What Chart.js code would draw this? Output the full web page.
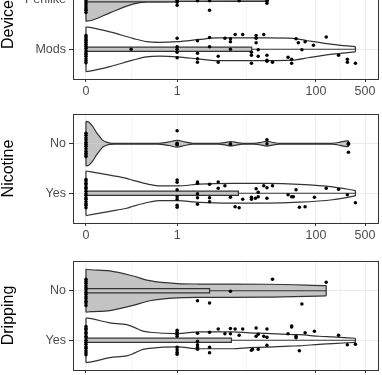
<!DOCTYPE html>
<html><head><meta charset="utf-8">
<script src="https://cdn.jsdelivr.net/npm/chart.js@4.4.0/dist/chart.umd.min.js"></script>
<style>
html,body{margin:0;padding:0;background:#fff;overflow:hidden;width:382px;height:375px;position:relative;}
canvas{position:absolute;left:0;}
</style></head><body>
<canvas id="c1" width="382" height="151" style="top:-42px"></canvas>
<canvas id="c2" width="382" height="151" style="top:102px"></canvas>
<canvas id="c3" width="382" height="151" style="top:249px"></canvas>
<script>
// ---- axis (pseudo-log: log10(value + offset)) ----
const xOffset = 0.053;
const xBreaks = [0, 1, 100, 500];
const xBreakLabels = ['0', '1', '100', '500'];

// ---- panels ----
const panelTitles = ['Device', 'Nicotine', 'Dripping'];
const deviceGroups = ['Penlike', 'Mods'];
const nicotineGroups = ['No', 'Yes'];
const drippingGroups = ['No', 'Yes'];

// ---- violin profiles: [value, relative half-width] ----
const penlikeViolin = [[0,0.96],[0.01,0.93],[0.063,0.59],[0.193,0.2],[0.333,0.1],[1,0.08],[21,0.07]];
const modsViolin = [[0,1.0],[0.01,0.97],[0.063,0.78],[0.193,0.49],[0.333,0.34],[0.543,0.31],[1,0.34],[2.15,0.44],[3.75,0.51],[8.1,0.51],[19.5,0.51],[46.6,0.49],[80,0.37],[172,0.22],[365,0.115]];
const nicNoViolin = [[0,1.0],[0.0055,0.96],[0.014,0.75],[0.022,0.5],[0.031,0.3],[0.039,0.15],[0.051,0.07],[0.063,0.03],[0.084,0.02],[0.5,0.02],[0.75,0.08],[1,0.15],[1.3,0.08],[1.7,0.02],[4,0.02],[5,0.05],[6,0.1],[7.5,0.05],[9,0.02],[13,0.02],[16,0.05],[20,0.11],[25,0.05],[30,0.02],[170,0.02],[220,0.07],[260,0.12],[290,0.13]];
const nicYesViolin = [[0,1.0],[0.01,0.96],[0.063,0.81],[0.148,0.67],[0.196,0.58],[0.377,0.39],[0.543,0.33],[1,0.33],[2.15,0.41],[6.5,0.44],[19.5,0.44],[58,0.40],[172,0.29],[365,0.12]];
const dripNoViolin = [[0,0.96],[0.01,0.94],[0.063,0.89],[0.196,0.66],[0.377,0.45],[1,0.32],[2.15,0.30],[19.5,0.29],[140,0.23]];
const dripYesViolin = [[0,1.0],[0.01,0.97],[0.063,0.78],[0.148,0.70],[0.196,0.6],[0.29,0.41],[0.377,0.36],[1,0.30],[2.15,0.38],[6.5,0.38],[11.3,0.33],[19.5,0.31],[41.8,0.26],[58,0.25],[111.5,0.18],[172,0.15],[365,0.09]];

// ---- box stats: [q1, median, q3, upper whisker] ----
const penlikeBox = [0, 0, 1, 21];
const modsBox = [0, 0, 12.1, 365];
const nicNoBox = [0, 0, 0, 0];
const nicYesBox = [0, 0, 7.8, 365];
const dripNoBox = [0, 0, 3, 140];
const dripYesBox = [0, 0, 6.2, 365];

// ---- jittered points: [value, vertical jitter] ----
const penlikePoints = [[0,-0.3],[0,-0.26],[0,-0.22],[0,-0.17],[0,-0.12],[0,-0.08],[0,-0.03],[0,0.02],[0,0.06],[0,0.1],[0,0.14],[0,0.18],[0,0.21],[0,0.26],
  [1,-0.2],[1,-0.1],[1,0.01],[1,0.05],[1,0.11],[2,0.02],[3,0.02],[3,0.21],[8,0.02],[20,0.02],[20,0.07]];
const modsPoints = [[0,-0.28],[0,-0.25],[0,-0.21],[0,-0.18],[0,-0.14],[0,-0.1],[0,-0.06],[0,-0.02],[0,0.03],[0,0.07],[0,0.1],[0,0.14],[0,0.19],[0,0.23],[0,0.27],
  [0.18,0],[1,-0.22],[1,-0.05],[1,0],[1,0.06],[1,0.17],[2,-0.17],[2,0.08],[2,0.19],[2,0.26],[3,-0.24],[3,-0.05],[4,0.14],[4,0.26],[5,-0.22],
  [6,-0.21],[6,-0.15],[6,0],[7,-0.3],[9,-0.3],[12,0.06],[12,0.12],[12,0.28],[14,-0.28],[14,-0.22],[14,-0.13],[15,0.01],[15,0.14],[18,-0.3],
  [20,0.12],[20,0.22],[20,0.24],[24,0.26],[40,0.16],[45,0.2],[45,0.28],[52,-0.21],[56,-0.13],[63,0.01],[70,-0.15],[92,-0.08],[140,-0.25],
  [210,0.12],[280,0.2],[280,0.26],[365,0.28]];
const nicNoPoints = [[0,-0.21],[0,-0.17],[0,-0.12],[0,-0.08],[0,-0.03],[0,0.01],[0,0.05],[0,0.1],[0,0.15],[0,0.19],[0,0.23],[0,0.26],
  [1,-0.26],[1,-0.01],[1,0.01],[1,0.02],[6,0],[6,0.01],[20,-0.08],[20,0],[290,-0.01],[290,0.01],[290,0.17]];
const nicYesPoints = [[0,-0.28],[0,-0.25],[0,-0.2],[0,-0.17],[0,-0.12],[0,-0.09],[0,-0.04],[0,0.01],[0,0.04],[0,0.09],[0,0.12],[0,0.17],[0,0.21],[0,0.24],[0,0.29],
  [1,-0.27],[1,-0.22],[1,-0.07],[1,0.07],[1,0.12],[1,0.24],[1,0.28],[2,-0.23],[2,-0.2],[2,0.01],[2,0.09],[2,0.22],[3,-0.18],[3,0.09],[3,0.17],
  [4,-0.23],[4,-0.1],[5,-0.15],[6,0.08],[7,0.27],[8,0.29],[9,0.12],[12,0.08],[12,0.12],[13.7,0.1],[14,-0.09],[15,-0.02],[15,0.07],[18,-0.15],
  [20,-0.11],[20,0.1],[24,-0.15],[40,0.03],[45,0.07],[47.6,0.07],[52,-0.07],[58,0.28],[70,0.27],[95,0.08],[140,-0.1],[210,-0.08],[280,0.03],[365,0.19]];
const dripNoPoints = [[0,-0.23],[0,-0.19],[0,-0.15],[0,-0.1],[0,-0.06],[0,-0.02],[0,0.03],[0,0.07],[0,0.12],[0,0.16],[0,0.21],[0,0.25],[0,0.3],
  [2,0.2],[3,0.25],[6,0.01],[24,-0.23],[63,0.27],[140,-0.17]];
const dripYesPoints = [[0,-0.28],[0,-0.24],[0,-0.21],[0,-0.16],[0,-0.13],[0,-0.08],[0,-0.05],[0,0],[0,0.04],[0,0.08],[0,0.13],[0,0.16],[0,0.21],[0,0.25],[0,0.29],
  [1,-0.2],[1,-0.16],[1,-0.12],[1,-0.08],[1,0.14],[1,0.19],[1,0.24],[1,0.28],[2,-0.14],[2,0.02],[2,0.09],[2,0.14],[2,0.18],[3,-0.16],[3,0.14],[3,0.25],
  [4,-0.23],[5,-0.13],[6,-0.24],[6,-0.13],[7,-0.23],[8,-0.1],[9,-0.23],[12,0.2],[12.4,0.18],[14,-0.25],[14,-0.08],[15,-0.12],[15,0.18],[18,-0.08],
  [20,-0.23],[20,-0.06],[20,0.1],[40,-0.13],[45,-0.27],[45,-0.29],[52,-0.08],[52,-0.05],[58,0.21],[70,-0.15],[95,-0.18],[210,-0.1],[280,0.09],[365,0.08]];

// ---- styles ----
const FONT = '"Liberation Sans", Arial, Helvetica, sans-serif';
const GREY_FILL = '#c4c4c4';
const WHITE_FILL = '#ffffff';
const LINE = '#333333';

const T = v => Math.log10(v + xOffset);
const span = T(500) - T(0);
const X_MIN = T(0) - 0.0465 * span;
const X_MAX = T(500) + 0.0465 * span;
const xTickVals = [];
xBreaks.forEach((b, i) => {
  xTickVals.push(T(b));
  if (i < xBreaks.length - 1) xTickVals.push((T(b) + T(xBreaks[i + 1])) / 2);
});

const frame = {
  id: 'frame',
  afterDatasetsDraw(chart) {
    const {ctx, chartArea: a} = chart;
    ctx.save();
    ctx.strokeStyle = LINE; ctx.lineWidth = 1;
    ctx.strokeRect(Math.round(a.left) + 0.5, Math.round(a.top) + 0.5, Math.round(a.right - a.left), Math.round(a.bottom - a.top));
    ctx.restore();
  }
};

function makePanel(id, title, groups, rows) {
  const W = 0.45, BH = 0.042;
  const ds = [];
  rows.forEach((r, i) => {
    const c = i + 1;
    const base = {type: 'line', showLine: true, pointRadius: 0, borderColor: LINE, borderWidth: 1.2};
    ds.push({...base, cubicInterpolationMode: 'monotone', data: r.violin.map(([v, w]) => ({x: T(v), y: c - w * W})), fill: {value: c}, backgroundColor: r.fill, order: 6});
    ds.push({...base, cubicInterpolationMode: 'monotone', data: r.violin.map(([v, w]) => ({x: T(v), y: c + w * W})), fill: {value: c}, backgroundColor: r.fill, order: 6});
    const f = r.violin[0], l = r.violin[r.violin.length - 1];
    ds.push({...base, tension: 0, fill: false, spanGaps: false, order: 5,
      data: [{x: T(f[0]), y: c - f[1] * W}, {x: T(f[0]), y: c + f[1] * W}, {x: T(f[0]), y: null},
             {x: T(l[0]), y: c - l[1] * W}, {x: T(l[0]), y: c + l[1] * W}]});
    const [q1, med, q3, wh] = r.box;
    if (wh > q3) ds.push({...base, tension: 0, fill: false, order: 3, data: [{x: T(q3), y: c}, {x: T(wh), y: c}]});
    if (q3 > q1) {
      ds.push({...base, tension: 0, fill: 'shape', backgroundColor: GREY_FILL, order: 2,
        data: [{x: T(q1), y: c - BH}, {x: T(q3), y: c - BH}, {x: T(q3), y: c + BH}, {x: T(q1), y: c + BH}, {x: T(q1), y: c - BH}]});
      ds.push({...base, tension: 0, fill: false, order: 1, data: [{x: T(med), y: c - BH}, {x: T(med), y: c + BH}]});
    }
    ds.push({type: 'line', showLine: false, pointRadius: 1.75, pointBackgroundColor: '#000', pointBorderColor: '#000', pointBorderWidth: 0, order: 0,
      data: r.points.map(([v, j]) => ({x: T(v), y: c + j}))});
  });
  new Chart(document.getElementById(id), {
    type: 'line',
    data: {datasets: ds},
    plugins: [frame],
    options: {
      responsive: false, animation: false, events: [], devicePixelRatio: 1,
      layout: {padding: {top: 12, right: 3, left: 0, bottom: 0}},
      plugins: {legend: {display: false}, tooltip: {enabled: false}},
      scales: {
        x: {
          type: 'linear', min: X_MIN, max: X_MAX,
          afterBuildTicks: s => { s.ticks = xTickVals.map(v => ({value: v})); },
          afterFit: s => { s.height = 30; },
          ticks: {autoSkip: false, maxRotation: 0, padding: 2, color: '#4d4d4d', font: {size: 12.5, family: FONT},
                  callback: (v, i) => (i % 2 === 0 ? xBreakLabels[i / 2] : '')},
          grid: {lineWidth: 1, tickLength: 3, drawTicks: true,
                 color: ctx => (ctx.index % 2 === 0 ? '#ebebeb' : '#f5f5f5'),
                 tickColor: ctx => (ctx.index % 2 === 0 ? LINE : 'rgba(0,0,0,0)')},
          border: {display: false}
        },
        y: {
          type: 'linear', reverse: true, min: 0.4, max: 2.6,
          afterBuildTicks: s => { s.ticks = groups.map((g, k) => ({value: k + 1})); },
          afterFit: s => { s.width = 73; },
          ticks: {autoSkip: false, padding: 3, color: '#4d4d4d', font: {size: 12.5, family: FONT},
                  callback: v => groups[Math.round(v) - 1]},
          grid: {lineWidth: 1, tickLength: 4, drawTicks: true, color: '#ebebeb', tickColor: LINE},
          border: {display: false},
          title: {display: true, text: title, color: '#000', font: {size: 16, family: FONT, lineHeight: 1.1}, padding: {top: 0, bottom: 0}}
        }
      }
    }
  });
}

makePanel('c1', panelTitles[0], deviceGroups, [
  {violin: penlikeViolin, box: penlikeBox, points: penlikePoints, fill: GREY_FILL},
  {violin: modsViolin, box: modsBox, points: modsPoints, fill: WHITE_FILL}
]);
makePanel('c2', panelTitles[1], nicotineGroups, [
  {violin: nicNoViolin, box: nicNoBox, points: nicNoPoints, fill: GREY_FILL},
  {violin: nicYesViolin, box: nicYesBox, points: nicYesPoints, fill: WHITE_FILL}
]);
makePanel('c3', panelTitles[2], drippingGroups, [
  {violin: dripNoViolin, box: dripNoBox, points: dripNoPoints, fill: GREY_FILL},
  {violin: dripYesViolin, box: dripYesBox, points: dripYesPoints, fill: WHITE_FILL}
]);
</script>
</body></html>
